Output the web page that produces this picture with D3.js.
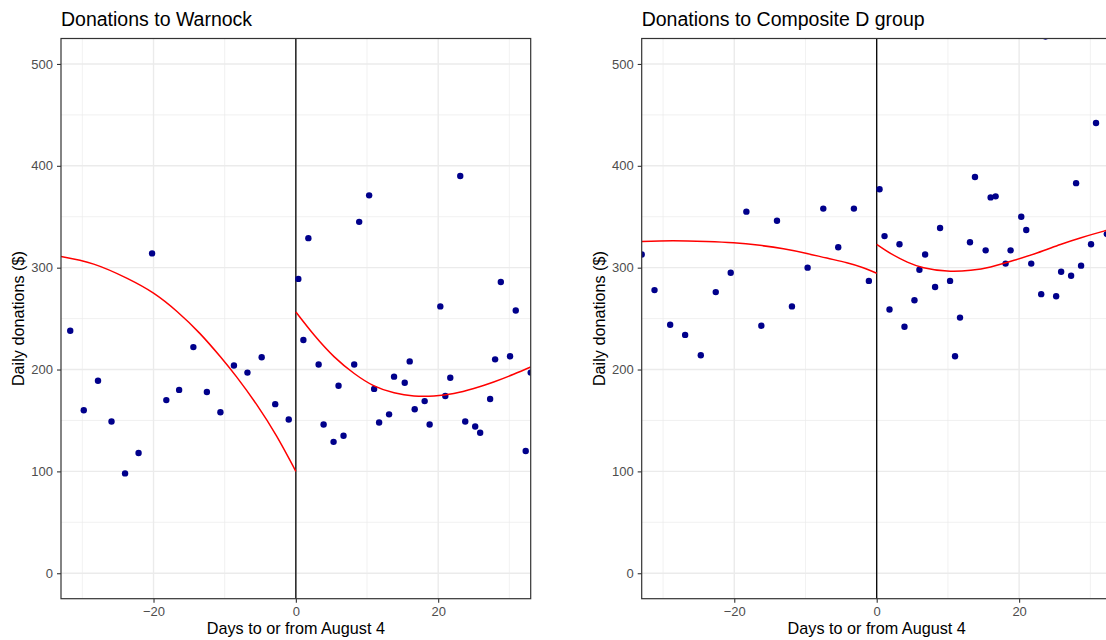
<!DOCTYPE html>
<html>
<head>
<meta charset="utf-8">
<script src="https://cdn.jsdelivr.net/npm/d3@7"></script>
<style>
  html, body { margin: 0; padding: 0; background: #fff; }
  svg { display: block; font-family: "Liberation Sans", Arial, Helvetica, sans-serif; }
</style>
</head>
<body>
<svg id="chart" width="1106" height="640"></svg>
<script>
// ---------- DATA ----------
const panelTitles = ["Donations to Warnock", "Donations to Composite D group"];
const xTicks = [-20, 0, 20];
const yTicks = [0, 100, 200, 300, 400, 500];
const xMinor = [-30, -10, 10, 30];
const yMinor = [50, 150, 250, 350, 450];

// Warnock
const warnockPreDays = [-31.7, -29.8, -27.8, -25.9, -24.0, -22.1, -20.2, -18.2, -16.4, -14.4, -12.5, -10.6, -8.7, -6.8, -4.8, -2.9, -1.0];
const warnockPreVals = [238, 160, 189, 149, 98, 118, 314, 170, 180, 222, 178, 158, 204, 197, 212, 166, 151];
const warnockPostDays = [0.35, 1.06, 1.76, 3.2, 3.9, 5.3, 6.0, 6.7, 8.2, 8.9, 10.3, 11.0, 11.7, 13.1, 13.8, 15.3, 16.0, 16.7, 18.1, 18.8, 20.3, 21.0, 21.7, 23.1, 23.8, 25.2, 25.9, 27.3, 28.0, 28.8, 30.1, 30.9, 32.3, 33.0];
const warnockPostVals = [289, 229, 329, 205, 146, 129, 184, 135, 205, 345, 371, 181, 148, 156, 193, 187, 208, 161, 169, 146, 262, 174, 192, 390, 149, 144, 138, 171, 210, 286, 213, 258, 120, 197];
const warnockFitPreDays = [-33, -28.4, -23.7, -20, -16.7, -13.5, -10.6, -8.3, -5.5, -2.7, 0];
const warnockFitPreVals = [311, 303.5, 289.5, 275, 257, 235.5, 212.5, 192.5, 165.5, 134.5, 100];
const warnockFitPostDays = [0, 2.6, 5.4, 8.2, 11.0, 13.8, 16.6, 19.4, 22.2, 25.0, 27.8, 30.6, 33];
const warnockFitPostVals = [256.5, 233.6, 212.4, 196.1, 183.9, 177.1, 174.1, 174.1, 176.5, 181.4, 187.8, 195.4, 202.5];

// Composite D group
const compositePreDays = [-33.0, -31.2, -29.0, -26.9, -24.7, -22.6, -20.5, -18.3, -16.2, -14.0, -11.9, -9.7, -7.5, -5.4, -3.2, -1.1];
const compositePreVals = [313, 278, 244, 234, 214, 276, 295, 355, 243, 346, 262, 300, 358, 320, 358, 287];
const compositePostDays = [0.4, 1.1, 1.8, 3.2, 3.9, 5.3, 6.0, 6.8, 8.2, 8.9, 10.3, 11.0, 11.7, 13.1, 13.8, 15.3, 16.0, 16.7, 18.1, 18.8, 20.3, 21.0, 21.7, 23.1, 23.7, 25.2, 25.9, 27.3, 28.0, 28.7, 30.1, 30.8, 32.3];
const compositePostVals = [377, 331, 259, 323, 242, 268, 298, 313, 281, 339, 287, 213, 251, 325, 389, 317, 369, 370, 304, 317, 350, 337, 304, 274, 527, 272, 296, 292, 383, 302, 323, 442, 333];
const compositeFitPreDays = [-33, -28.6, -23.9, -20.1, -16.4, -13.1, -9.8, -7.0, -4.2, -1.9, 0];
const compositeFitPreVals = [325.8, 326.5, 325.8, 324.5, 321.9, 318.6, 314, 309.4, 304.9, 300, 294.5];
const compositeFitPostDays = [0, 2.0, 4.3, 6.6, 9.9, 13.2, 16.0, 19.3, 22.6, 25.8, 28.7, 31.9, 33];
const compositeFitPostVals = [322.8, 313.7, 305.5, 300, 296.7, 297.4, 300.6, 307.2, 314.7, 322.8, 329.4, 335.9, 337.5];

const xLabel = "Days to or from August 4";
const yLabel = "Daily donations ($)";

// ---------- LAYOUT ----------
const svg = d3.select("#chart");
const pTop = 38.5, pBottom = 598.7;
const panels = [
  { left: 61, right: 530.7, title: panelTitles[0],
    pts: [warnockPreDays.map((d,i)=>[d, warnockPreVals[i]]), warnockPostDays.map((d,i)=>[d, warnockPostVals[i]])].flat(),
    fits: [warnockFitPreDays.map((d,i)=>[d, warnockFitPreVals[i]]), warnockFitPostDays.map((d,i)=>[d, warnockFitPostVals[i]])] },
  { left: 641.7, right: 1111.7, title: panelTitles[1],
    pts: [compositePreDays.map((d,i)=>[d, compositePreVals[i]]), compositePostDays.map((d,i)=>[d, compositePostVals[i]])].flat(),
    fits: [compositeFitPreDays.map((d,i)=>[d, compositeFitPreVals[i]]), compositeFitPostDays.map((d,i)=>[d, compositeFitPostVals[i]])] }
];

const y = d3.scaleLinear().domain([-25, 525]).range([pBottom, pTop]);

panels.forEach((p, pi) => {
  const x = d3.scaleLinear().domain([-33, 33]).range([p.left, p.right]);
  const g = svg.append("g");
  const clipId = "clip" + pi;
  svg.append("clipPath").attr("id", clipId)
    .append("rect").attr("x", p.left).attr("y", pTop).attr("width", p.right - p.left).attr("height", pBottom - pTop);

  const inner = g.append("g").attr("clip-path", `url(#${clipId})`);
  // minor grid
  inner.selectAll(".vminor").data(xMinor).join("line").attr("class", "vminor")
    .attr("x1", d => x(d)).attr("x2", d => x(d)).attr("y1", pTop).attr("y2", pBottom)
    .attr("stroke", "#EBEBEB").attr("stroke-width", 0.7);
  inner.selectAll(".hminor").data(yMinor).join("line").attr("class", "hminor")
    .attr("y1", d => y(d)).attr("y2", d => y(d)).attr("x1", p.left).attr("x2", p.right)
    .attr("stroke", "#EBEBEB").attr("stroke-width", 0.7);
  // major grid
  inner.selectAll(".vmajor").data(xTicks).join("line").attr("class", "vmajor")
    .attr("x1", d => x(d)).attr("x2", d => x(d)).attr("y1", pTop).attr("y2", pBottom)
    .attr("stroke", "#EBEBEB").attr("stroke-width", 1.4);
  inner.selectAll(".hmajor").data(yTicks).join("line").attr("class", "hmajor")
    .attr("y1", d => y(d)).attr("y2", d => y(d)).attr("x1", p.left).attr("x2", p.right)
    .attr("stroke", "#EBEBEB").attr("stroke-width", 1.4);

  // vertical line at 0
  inner.append("line").attr("x1", x(0)).attr("x2", x(0)).attr("y1", pTop).attr("y2", pBottom)
    .attr("stroke", "#000").attr("stroke-width", 1.3);

  // points
  inner.selectAll("circle").data(p.pts).join("circle")
    .attr("cx", d => x(d[0])).attr("cy", d => y(d[1])).attr("r", 3.2)
    .attr("fill", "#00008B");

  // fit curves
  const line = d3.line().x(d => x(d[0])).y(d => y(d[1])).curve(d3.curveNatural);
  p.fits.forEach(f => {
    inner.append("path").attr("d", line(f)).attr("fill", "none")
      .attr("stroke", "#FF0000").attr("stroke-width", 1.5);
  });

  // panel border
  g.append("rect").attr("x", p.left).attr("y", pTop).attr("width", p.right - p.left).attr("height", pBottom - pTop)
    .attr("fill", "none").attr("stroke", "#333333").attr("stroke-width", 1.2);

  // axes
  const yAxis = g.append("g").attr("transform", `translate(${p.left},0)`)
    .call(d3.axisLeft(y).tickValues(yTicks).tickSize(4).tickPadding(4));
  const xAxis = g.append("g").attr("transform", `translate(0,${pBottom})`)
    .call(d3.axisBottom(x).tickValues(xTicks).tickSize(4).tickPadding(4));
  [yAxis, xAxis].forEach(a => {
    a.select(".domain").remove();
    a.selectAll(".tick line").attr("stroke", "#333333").attr("stroke-width", 1.1);
    a.selectAll(".tick text").attr("fill", "#4D4D4D").style("font-size", "13px")
      .style("font-family", '"Liberation Sans", Arial, sans-serif');
  });

  // title
  g.append("text").attr("x", p.left).attr("y", 26).text(p.title)
    .attr("fill", "#000").style("font-size", "19.5px");
  // x label
  g.append("text").attr("x", (p.left + p.right) / 2).attr("y", 634).attr("text-anchor", "middle")
    .text(xLabel).attr("fill", "#000").style("font-size", "16.2px");
  // y label
  g.append("text").attr("transform", `translate(${p.left - 37},${(pTop + pBottom) / 2}) rotate(-90)`)
    .attr("text-anchor", "middle").text(yLabel).attr("fill", "#000").style("font-size", "16.2px");
});
</script>
</body>
</html>
